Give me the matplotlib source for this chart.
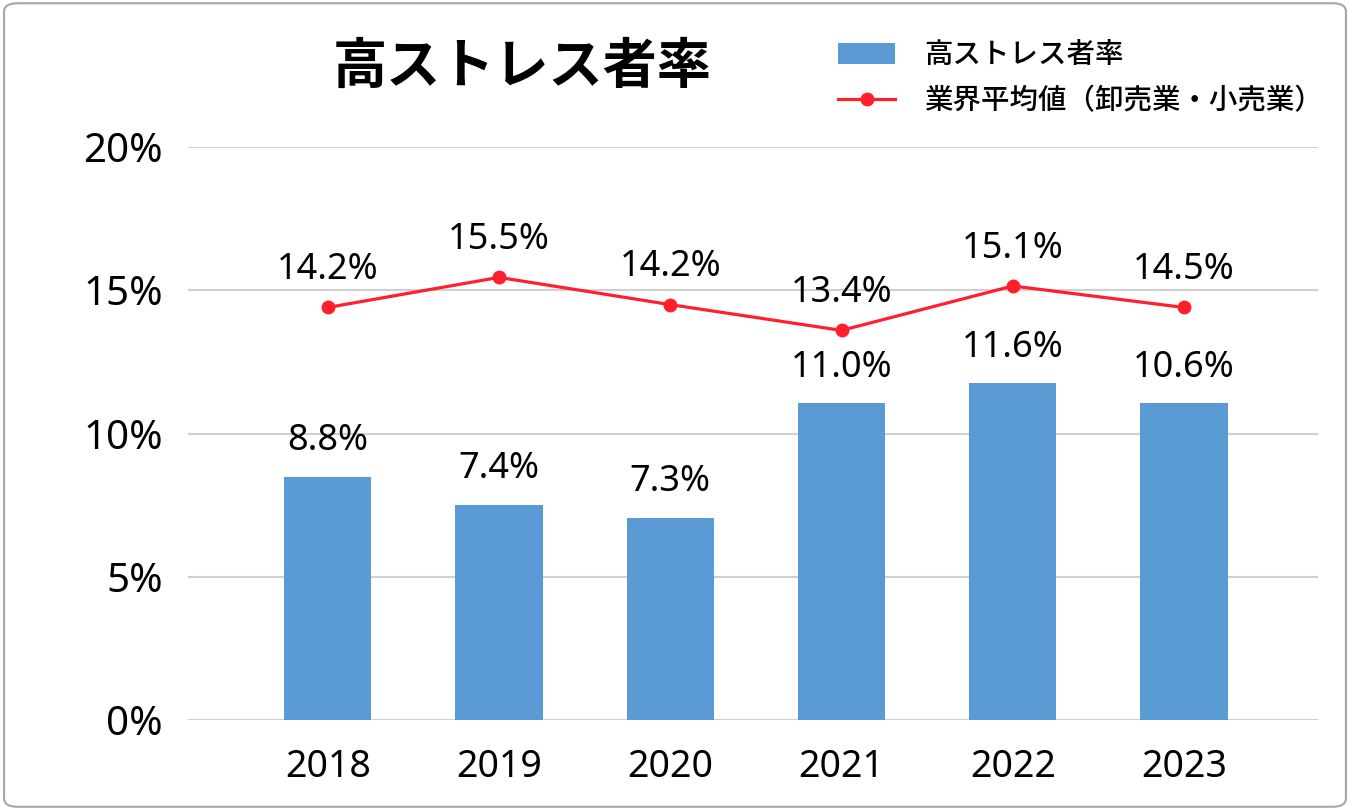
import numpy as np
import matplotlib
matplotlib.use("Agg")
import matplotlib.pyplot as plt
from matplotlib.patches import FancyBboxPatch, Patch
from matplotlib.lines import Line2D

plt.rcParams['font.family'] = ['Noto Sans CJK JP', 'DejaVu Sans']
num_font = ['Noto Sans', 'DejaVu Sans']

years = ['2018', '2019', '2020', '2021', '2022', '2023']
# bar heights as drawn, and the labels printed above them
stress_rate = [8.5, 7.5, 7.05, 11.05, 11.75, 11.05]
stress_labels = ['8.8%', '7.4%', '7.3%', '11.0%', '11.6%', '10.6%']
# industry average (wholesale / retail)
industry_avg = [14.4, 15.45, 14.5, 13.6, 15.15, 14.4]
industry_labels = ['14.2%', '15.5%', '14.2%', '13.4%', '15.1%', '14.5%']
y_ticks = [0, 5, 10, 15, 20]

bar_color = '#5B9BD5'
line_color = '#FF1F2D'

fig = plt.figure(figsize=(13.5, 8.1), dpi=100)
ax = fig.add_axes([0.139, 0.111, 0.837, 0.7075])

x = np.arange(len(years))
ax.bar(x, stress_rate, width=0.51, color=bar_color, zorder=2)
ax.plot(x, industry_avg, color=line_color, linewidth=2.3, marker='o',
        markersize=9, zorder=3)

for xi, v, lab in zip(x, stress_rate, stress_labels):
    ax.text(xi, v + 1.25, lab, ha='center', va='center', fontsize=26,
            family=num_font, fontweight='medium')
for xi, v, lab in zip(x, industry_avg, industry_labels):
    ax.text(xi, v + 1.3, lab, ha='center', va='center', fontsize=26,
            family=num_font, fontweight='medium')

ax.set_xlim(-0.818, 5.78)
ax.set_ylim(0, 20)
ax.set_xticks(x)
ax.set_xticklabels(years, fontsize=27, family=num_font, fontweight='medium')
ax.set_yticks(y_ticks)
ax.set_yticklabels([f'{t}%' for t in y_ticks], fontsize=29, family=num_font,
                   fontweight='medium')
ax.tick_params(axis='both', length=0)
ax.tick_params(axis='x', pad=20)
ax.tick_params(axis='y', pad=18)
ax.grid(axis='y', color='#d0d0d0', linewidth=1.5, zorder=0)
for s in ax.spines.values():
    s.set_visible(False)

fig.text(0.387, 0.917, '高ストレス者率', ha='center', va='center',
         fontsize=39, fontweight='bold')

handles = [Patch(facecolor=bar_color, edgecolor='none'),
           Line2D([0], [0], color=line_color, linewidth=2.3, marker='o',
                  markersize=9)]
fig.legend(handles, ['高ストレス者率', '業界平均値（卸売業・小売業）'],
           loc='upper left', bbox_to_anchor=(0.602, 0.982), frameon=False,
           fontsize=20.5, handlelength=2.0, handleheight=0.75,
           labelspacing=0.6, handletextpad=1.0,
           prop={'size': 20.5, 'weight': 'medium'})

border = FancyBboxPatch((0.003, 0.004), 0.994, 0.992,
                        boxstyle='round,pad=0,rounding_size=0.01',
                        transform=fig.transFigure, fill=False,
                        edgecolor='#a6a6a6', linewidth=1.5)
fig.patches.append(border)

fig.savefig('out.png', dpi=100)
